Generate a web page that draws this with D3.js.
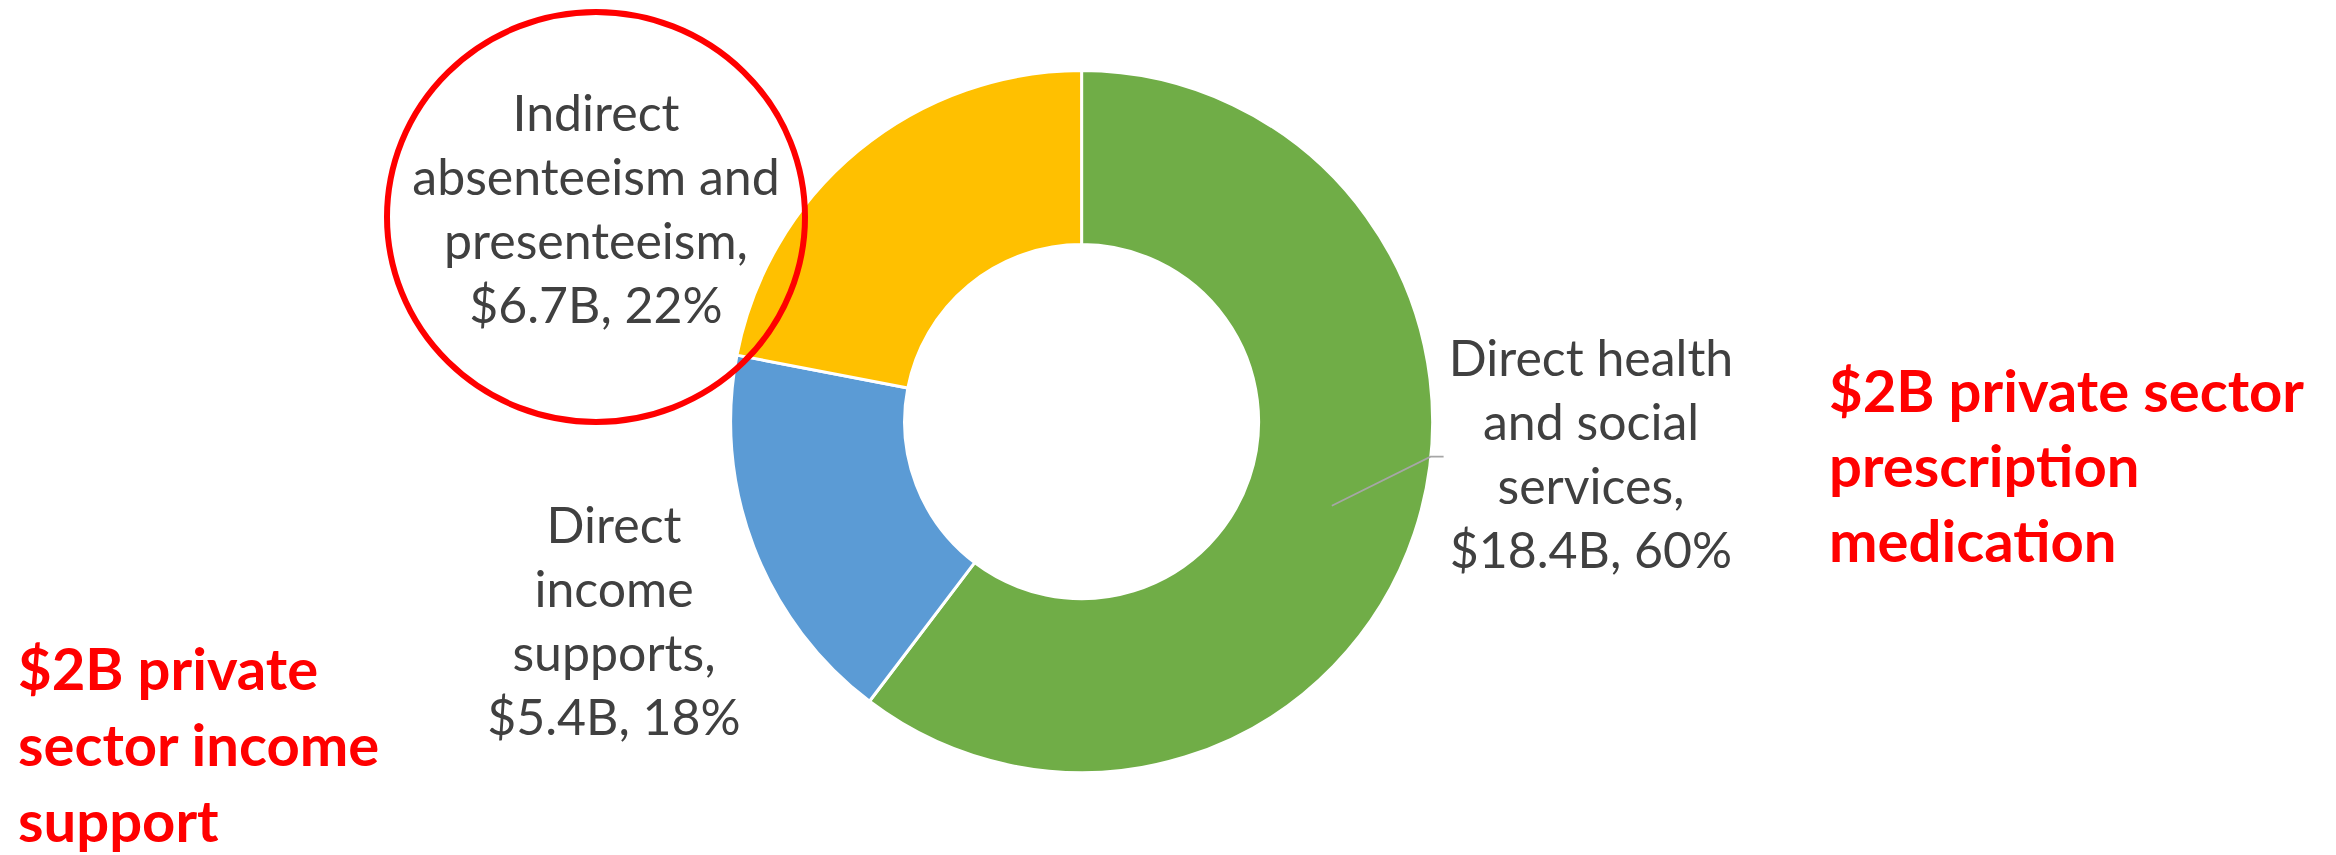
<!DOCTYPE html>
<html>
<head>
<meta charset="utf-8">
<script src="https://cdn.jsdelivr.net/npm/d3@7"></script>
<style>
  body { margin: 0; background: #fff; }
  svg { display: block; }
</style>
</head>
<body>
<div id="chart"></div>
<script>
// Data
const categories = ["Direct health and social services", "Direct income supports", "Indirect absenteeism and presenteeism"];
const values = [18.4, 5.4, 6.7];     // $B
const percents = [60, 18, 22];
const sliceColors = ["#70AD47", "#5B9BD5", "#FFC000"];
const labelWords = [
  ["Direct health", "and social", "services,"],
  ["Direct", "income", "supports,"],
  ["Indirect", "absenteeism and", "presenteeism,"]
];
const notes = [
  ["$2B private sector", "prescription", "medication"],
  ["$2B private", "sector income", "support"]
];

// Layout
const width = 2336, height = 855;
const cx = 1081.6, cy = 421.6;
const outerR = 351, innerR = 177;
const textColor = "#404040";
const font = "Lato, 'Open Sans', sans-serif";

// where each data label sits (centre x, first baseline)
const labelPos = [
  { x: 1591, y: 376 },
  { x: 614, y: 543 },
  { x: 596, y: 131 }
];
const notePos = [
  { x: 1829, y: 412, lh: 75 },
  { x: 18, y: 690, lh: 76 }
];

const svg = d3.select("#chart")
  .append("svg")
  .attr("width", width)
  .attr("height", height);

svg.append("rect").attr("width", width).attr("height", height).attr("fill", "#fff");

const g = svg.append("g").attr("transform", `translate(${cx}, ${cy})`);

const pie = d3.pie().sort(null).value(d => d)(values);
const arc = d3.arc().innerRadius(innerR).outerRadius(outerR);

g.selectAll("path.slice")
  .data(pie)
  .join("path")
  .attr("class", "slice")
  .attr("d", arc)
  .attr("fill", (d, i) => sliceColors[i])
  .attr("stroke", "#fff")
  .attr("stroke-width", 3)
  .attr("stroke-linejoin", "round");

// leader line for the green slice label
const c0 = arc.centroid(pie[0]);
g.append("polyline")
  .attr("points", [c0, [349, 35], [362, 35]].map(p => p.join(",")).join(" "))
  .attr("fill", "none")
  .attr("stroke", "#A6A6A6")
  .attr("stroke-width", 1.8);

// data labels
const lineH = 64;
labelWords.forEach((words, i) => {
  const lines = words.concat([`$${values[i]}B, ${percents[i]}%`]);
  const t = svg.append("text")
    .attr("text-anchor", "middle")
    .attr("font-family", font)
    .attr("font-size", 50)
    .attr("fill", textColor);
  lines.forEach((ln, j) => {
    t.append("tspan")
      .attr("x", labelPos[i].x)
      .attr("y", labelPos[i].y + j * lineH)
      .text(ln);
  });
});

// red callout circle around the indirect label
svg.append("ellipse")
  .attr("cx", 596)
  .attr("cy", 217)
  .attr("rx", 209)
  .attr("ry", 205)
  .attr("fill", "none")
  .attr("stroke", "#FF0000")
  .attr("stroke-width", 6);

// red notes
notes.forEach((lines, i) => {
  const t = svg.append("text")
    .attr("font-family", font)
    .attr("font-weight", "bold")
    .attr("font-size", 58)
    .attr("fill", "#FF0000");
  lines.forEach((ln, j) => {
    t.append("tspan")
      .attr("x", notePos[i].x)
      .attr("y", notePos[i].y + j * notePos[i].lh)
      .text(ln);
  });
});
</script>
</body>
</html>
